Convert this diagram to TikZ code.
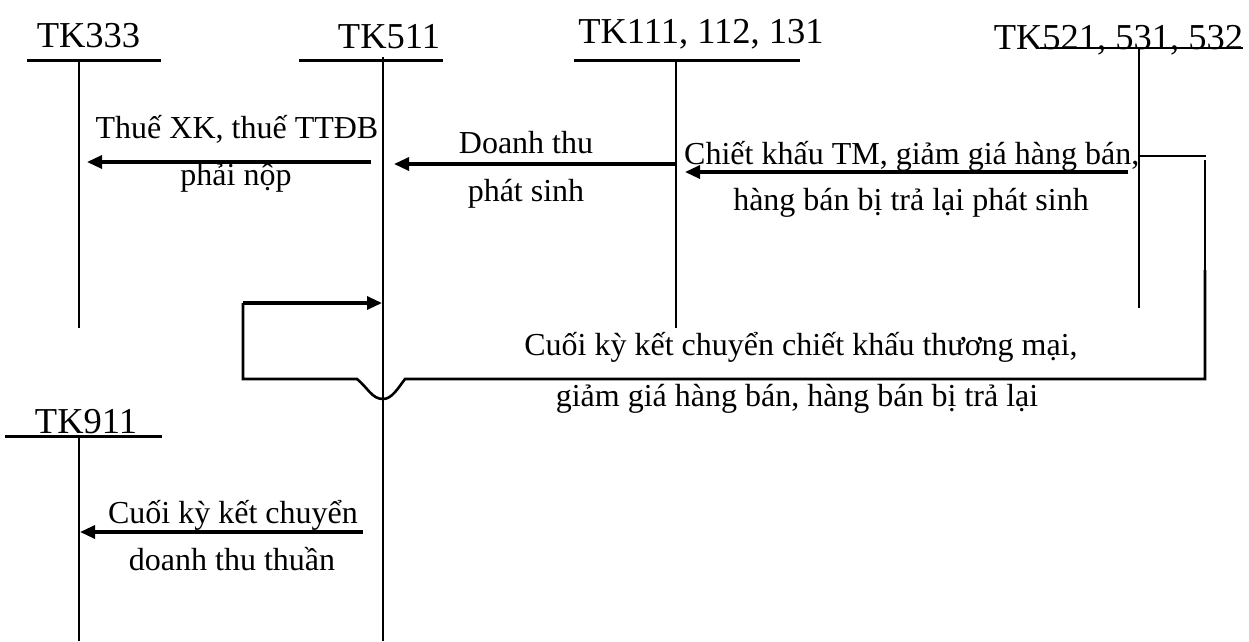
\documentclass[tikz,border=0pt]{standalone}
\usepackage{fontspec}
\setmainfont{Liberation Serif}
\usetikzlibrary{arrows.meta}
\begin{document}
\begin{tikzpicture}[x=1pt,y=-1pt,
  acct/.style={line width=2pt},
  head/.style={line width=3pt},
  post/.style={line width=3.2pt,-{Triangle[length=15pt,width=13pt]}},
  link/.style={line width=2.6pt},
  thinlink/.style={line width=1.8pt},
  ttl/.style={anchor=base,inner sep=0pt,font=\fontsize{36.5}{40}\selectfont},
  lbl/.style={anchor=base,inner sep=0pt,font=\fontsize{32}{38}\selectfont},
]
\useasboundingbox (0,0) rectangle (1249,641);

% account titles
\node[ttl] (t333) at (88.5,47) {TK333};
\node[ttl] (t511) at (389,48) {TK511};
\node[ttl] (t111) at (701,43) {TK111, 112, 131};
\node[ttl] (t521) at (1118.5,49) {TK521, 531, 532};
\node[ttl] (t911) at (86,433) {TK911};

% T-account skeletons
\coordinate (h333l) at (27,60);   \coordinate (h333r) at (161,60);
\coordinate (v333t) at (79,60);   \coordinate (v333b) at (79,328);
\coordinate (h511l) at (299,60);  \coordinate (h511r) at (443,60);
\coordinate (v511t) at (383,57);  \coordinate (v511b) at (383,641);
\coordinate (h111l) at (574,60);  \coordinate (h111r) at (800,60);
\coordinate (v111t) at (676,60);  \coordinate (v111b) at (676,328);
\coordinate (h521l) at (1040,48); \coordinate (h521r) at (1243,48);
\coordinate (v521t) at (1139,48); \coordinate (v521b) at (1139,308);
\coordinate (h911l) at (5,436);   \coordinate (h911r) at (162,436);
\coordinate (v911t) at (79,436);  \coordinate (v911b) at (79,641);

\draw[head] (h333l) -- (h333r);
\draw[head] (h511l) -- (h511r);
\draw[head] (h111l) -- (h111r);
\draw[acct] (h521l) -- (h521r);
\draw[head] (h911l) -- (h911r);
\draw[acct] (v333t) -- (v333b);
\draw[acct] (v511t) -- (v511b);
\draw[acct] (v111t) -- (v111b);
\draw[acct] (v521t) -- (v521b);
\draw[acct] (v911t) -- (v911b);

% postings
\coordinate (p1s) at (371,162);  \coordinate (p1e) at (87,162);
\coordinate (p2s) at (676,164);  \coordinate (p2e) at (394,164);
\coordinate (p3s) at (1128,172); \coordinate (p3e) at (685,172);
\coordinate (p4s) at (363,532);  \coordinate (p4e) at (80,532);

\draw[post] (p1s) -- (p1e);
\draw[post] (p2s) -- (p2e);
\draw[post] (p3s) -- (p3e);
\draw[post] (p4s) -- (p4e);

% year-end closing loop back into TK511
\coordinate (k0) at (1139,156);
\coordinate (k1) at (1206,156);
\coordinate (k2) at (1205,160);
\coordinate (k3) at (1205,270);
\coordinate (k4) at (1205,379);
\coordinate (b1) at (405,379);
\coordinate (bm) at (383,399);
\coordinate (b0) at (357,379);
\coordinate (k5) at (243,379);
\coordinate (k6) at (243,303);
\coordinate (k7) at (382,303);

\draw[thinlink] (k0) -- (k1);
\draw[thinlink] (k2) -- (k3);
\draw[link] (k3) -- (k4) -- (b1)
  .. controls (398,388) and (392,399) .. (bm)
  .. controls (372,399) and (368,388) .. (b0)
  -- (k5) -- (k6);
\draw[post] (k6) -- (k7);

% labels
\node[lbl] (l1a) at (237,138) {Thuế XK, thuế TTĐB};
\node[lbl] (l1b) at (236,185) {phải nộp};
\node[lbl] (l2a) at (526,153) {Doanh thu};
\node[lbl] (l2b) at (526,201) {phát sinh};
\node[lbl,anchor=base west] (l3a) at (684,164) {Chiết khấu TM, giảm giá hàng bán,};
\node[lbl] (l3b) at (911,210) {hàng bán bị trả lại phát sinh};
\node[lbl] (l4a) at (801,355) {Cuối kỳ kết chuyển chiết khấu thương mại,};
\node[lbl] (l4b) at (797,406) {giảm giá hàng bán, hàng bán bị trả lại};
\node[lbl] (l5a) at (233,523) {Cuối kỳ kết chuyển};
\node[lbl] (l5b) at (232,570) {doanh thu thuần};
\end{tikzpicture}
\end{document}
